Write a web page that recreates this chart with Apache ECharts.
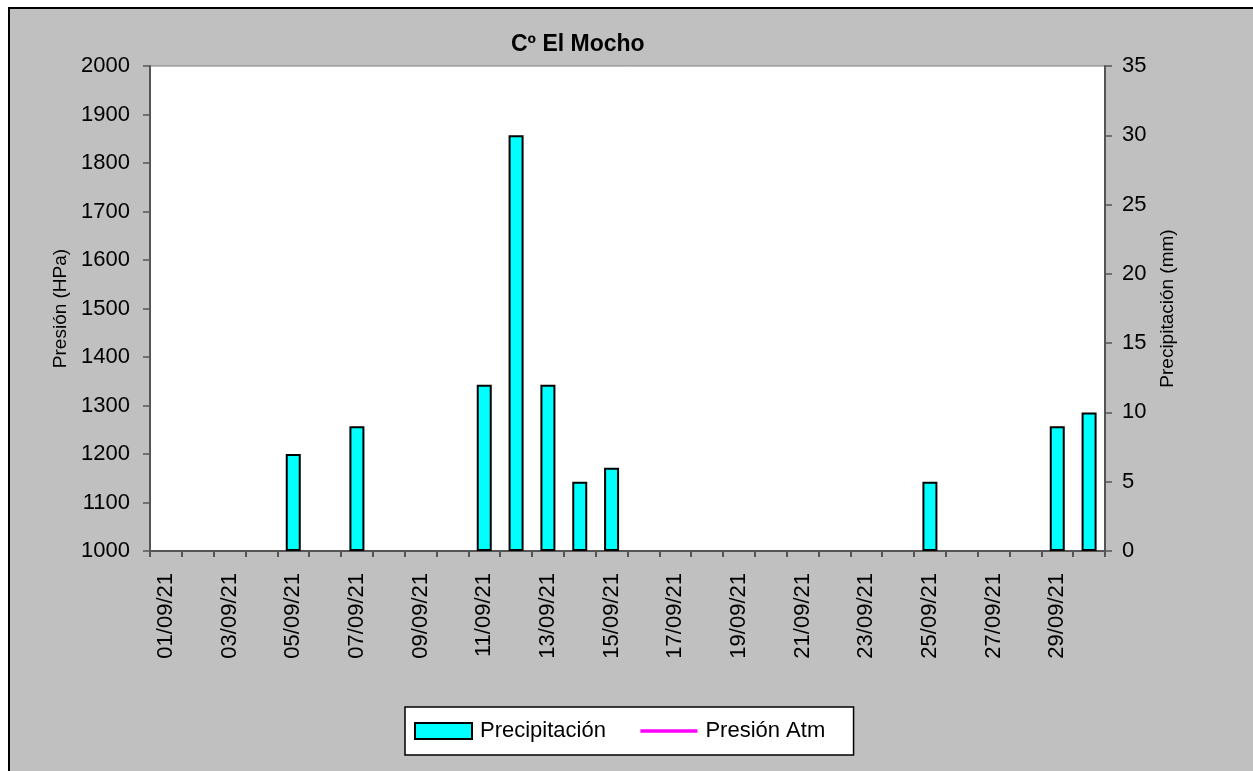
<!DOCTYPE html>
<html>
<head>
<meta charset="utf-8">
<script src="https://cdn.jsdelivr.net/npm/echarts@6/dist/echarts.min.js"></script>
<style>
  html, body { margin: 0; padding: 0; background: #fff; overflow: hidden; }
  #frame {
    position: absolute; left: 8px; top: 7px; width: 1260px; height: 780px;
    background: #c0c0c0; border-left: 2px solid #000; border-top: 2px solid #000;
  }
  #chart { position: absolute; left: 0; top: 0; width: 1253px; height: 771px; }
</style>
</head>
<body>
<div id="frame"></div>
<div id="chart"></div>
<script>
// fechas del mes
var dias = ['01/09/21', '02/09/21', '03/09/21', '04/09/21', '05/09/21', '06/09/21', '07/09/21', '08/09/21', '09/09/21', '10/09/21',
  '11/09/21', '12/09/21', '13/09/21', '14/09/21', '15/09/21', '16/09/21', '17/09/21', '18/09/21', '19/09/21', '20/09/21',
  '21/09/21', '22/09/21', '23/09/21', '24/09/21', '25/09/21', '26/09/21', '27/09/21', '28/09/21', '29/09/21', '30/09/21'];
// precipitacion (mm)
var precipitacion = [0, 0, 0, 0, 7, 0, 9, 0, 0, 0,
  12, 30, 12, 5, 6, 0, 0, 0, 0, 0,
  0, 0, 0, 0, 5, 0, 0, 0, 9, 10];
// presion atm (HPa) - sin datos
var presion = [null, null, null, null, null, null, null, null, null, null,
  null, null, null, null, null, null, null, null, null, null,
  null, null, null, null, null, null, null, null, null, null];

var fuente = 'Arial, "Liberation Sans", sans-serif';

// los dias sin lluvia no dibujan borde (como en excel)
var datosBarra = precipitacion.map(function (v) {
  return v === 0 ? { value: v, itemStyle: { borderWidth: 0 } } : v;
});

var option = {
  backgroundColor: 'transparent',
  animation: false,
  textStyle: { fontFamily: fuente, color: '#000' },
  title: {
    text: 'Cº El Mocho',
    left: 506,
    top: 28,
    textStyle: { fontSize: 23, fontWeight: 'bold', color: '#000', fontFamily: fuente }
  },
  legend: {
    left: 405,
    top: 707,
    backgroundColor: '#fff',
    borderColor: '#000',
    borderWidth: 1.5,
    borderRadius: 0,
    padding: [13, 10, 13, 9],
    itemGap: 10,
    itemWidth: 57,
    itemHeight: 16,
    formatter: function (name) {
      // relleno para ensanchar como en el original
      var relleno = name === 'Precipitación' ? '\u00a0\u00a0\u00a0\u00a0' : '\u00a0\u00a0\u00a0';
      return '{t|' + name + relleno + '}';
    },
    textStyle: {
      fontSize: 22, color: '#000', fontFamily: fuente,
      rich: {
        t: { fontSize: 22, color: '#000', fontFamily: fuente, padding: [0, 0, 0, 3] }
      }
    },
    data: [
      { name: 'Precipitación', icon: 'rect' },
      { name: 'Presión Atm', icon: 'path://M0,0 L62,0 L62,4 L0,4 Z' }
    ]
  },
  grid: {
    left: 150, right: 148, top: 66, bottom: 220,
    show: true,
    backgroundColor: '#fff',
    borderColor: '#808080',
    borderWidth: 1
  },
  xAxis: [{
    type: 'category',
    data: dias,
    boundaryGap: true,
    axisLine: { lineStyle: { color: '#555', width: 2 } },
    axisTick: { show: true, interval: 0, length: 6, lineStyle: { color: '#555', width: 2 } },
    axisLabel: {
      interval: 1,
      rotate: 90,
      margin: 22,
      fontSize: 22,
      color: '#000',
      fontFamily: fuente
    },
    splitLine: { show: false }
  }],
  yAxis: [{
    type: 'value',
    name: 'Presión (HPa)',
    nameLocation: 'middle',
    nameGap: 80,
    nameRotate: 90,
    nameTextStyle: { fontSize: 19, color: '#000', fontFamily: fuente },
    min: 1000,
    max: 2000,
    interval: 100,
    position: 'left',
    axisLine: { show: true, lineStyle: { color: '#555', width: 2 } },
    axisTick: { show: true, length: 7, lineStyle: { color: '#555', width: 1.5 } },
    axisLabel: {
      margin: 20, fontSize: 22, color: '#000', fontFamily: fuente,
      formatter: function (v) { return String(v); }
    },
    splitLine: { show: false }
  }, {
    type: 'value',
    name: 'Precipitación (mm)',
    nameLocation: 'middle',
    nameGap: 53,
    nameRotate: 90,
    nameTextStyle: { fontSize: 19, color: '#000', fontFamily: fuente },
    min: 0,
    max: 35,
    interval: 5,
    position: 'right',
    axisLine: { show: true, lineStyle: { color: '#555', width: 2 } },
    axisTick: { show: true, length: 7, lineStyle: { color: '#555', width: 1.5 } },
    axisLabel: {
      margin: 17, fontSize: 22, color: '#000', fontFamily: fuente,
      formatter: function (v) { return String(v); }
    },
    splitLine: { show: false }
  }],
  series: [{
    name: 'Precipitación',
    type: 'bar',
    yAxisIndex: 1,
    barWidth: 15,
    itemStyle: { color: '#00ffff', borderColor: '#000', borderWidth: 2 },
    data: datosBarra
  }, {
    name: 'Presión Atm',
    type: 'line',
    yAxisIndex: 0,
    symbol: 'none',
    lineStyle: { color: '#ff00ff', width: 3 },
    itemStyle: { color: '#ff00ff' },
    data: presion
  }]
};

echarts.init(document.getElementById('chart')).setOption(option);
</script>
</body>
</html>
